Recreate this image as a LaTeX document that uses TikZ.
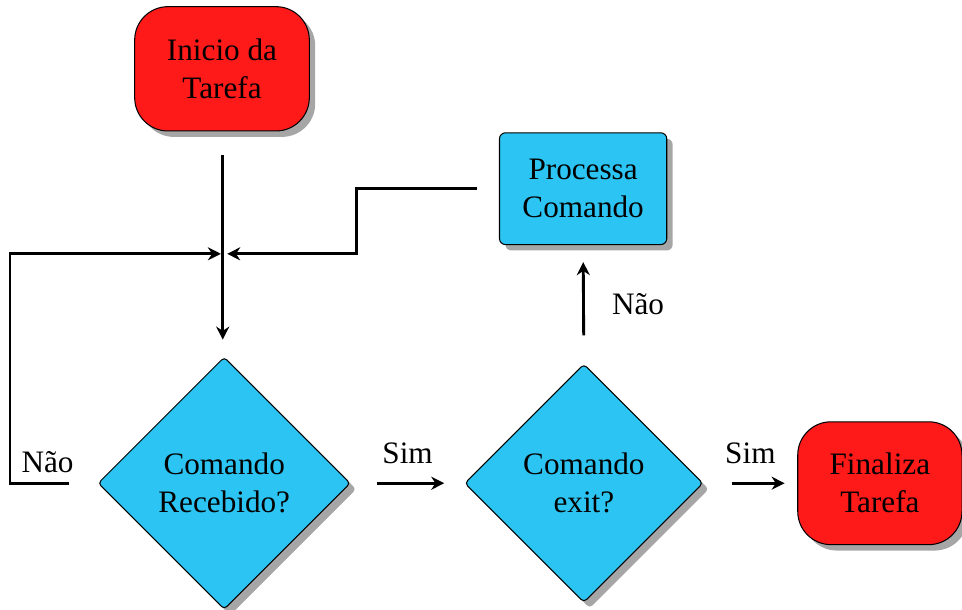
\documentclass[tikz,border=0pt]{standalone}
\usepackage{fontspec}
\setmainfont{Liberation Serif}
\usetikzlibrary{shapes.geometric,shadows,positioning,arrows.meta}

\definecolor{termred}{RGB}{255,26,26}
\definecolor{proccyan}{RGB}{44,196,242}

\tikzset{
  terminal/.style={rectangle, rounded corners=0.45cm, draw=black, fill=termred,
    minimum width=2.36cm, minimum height=1.68cm, align=center,
    drop shadow={shadow xshift=0.08cm, shadow yshift=-0.08cm, fill=black!35, opacity=1}},
  process/.style={rectangle, rounded corners=0.08cm, draw=black, fill=proccyan,
    minimum width=2.26cm, minimum height=1.51cm, align=center,
    drop shadow={shadow xshift=0.08cm, shadow yshift=-0.08cm, fill=black!35, opacity=1}},
  decision/.style={diamond, rounded corners=0.05cm, draw=black, fill=proccyan,
    inner sep=0pt, align=center,
    drop shadow={shadow xshift=0.08cm, shadow yshift=-0.08cm, fill=black!35, opacity=1}},
  flow/.style={line width=1.1pt, -{Stealth[length=5pt,width=5pt,inset=1.6pt]}},
}

\begin{document}
\begin{tikzpicture}[font=\fontsize{12}{14.6}\selectfont]
\useasboundingbox (0,0) rectangle (13,-8.23);

\node [terminal] (inicio) at (3.00,-0.93) {Inicio da\\Tarefa};
\node [process] (processa) at (7.88,-2.55) {Processa\\Comando};
\node [decision, minimum size=3.41cm] (recebido) at (3.03,-6.53) {Comando\\Recebido?};
\node [decision, minimum size=3.22cm] (exit) at (7.89,-6.53) {Comando\\exit?};
\node [terminal, minimum width=2.22cm, minimum height=1.66cm] (finaliza) at (11.89,-6.53) {Finaliza\\Tarefa};

\coordinate (junta) at (3.01,-3.43);
\coordinate (esq) at (0.135,-3.43);
\coordinate (dobra) at (4.82,-2.54);

% entrada e retorno
\draw [flow, shorten <=0.32cm] (inicio.south -| junta) -- (junta) -- ++(0,-1.16);
\draw [flow, shorten <=0.38cm] (recebido.west) -- (recebido.west -| esq) -- (esq) -- ++(2.85,0);
\draw [flow, shorten <=0.3cm, shorten >=0.06cm] (processa.west) -- (processa.west -| dobra) -- (dobra |- junta) -- (junta);

\node [above left=0.02cm and 0.2cm] (naoesq) at (recebido.west) {Não};

% decisoes
\draw [flow, shorten <=0.35cm, shorten >=0.27cm] (recebido.east) -- (exit.west)
   node [midway, above=0.12cm] (sim1) {Sim};
\draw [flow, shorten <=0.38cm, shorten >=0.17cm] (exit.east) -- (finaliza.west)
   node [midway, above=0.12cm] (sim2) {Sim};
\draw [flow, shorten <=0.38cm, shorten >=0.23cm] (exit.north) -- (processa.south)
   node [midway, right=0.25cm] (naocima) {Não};

\end{tikzpicture}
\end{document}
